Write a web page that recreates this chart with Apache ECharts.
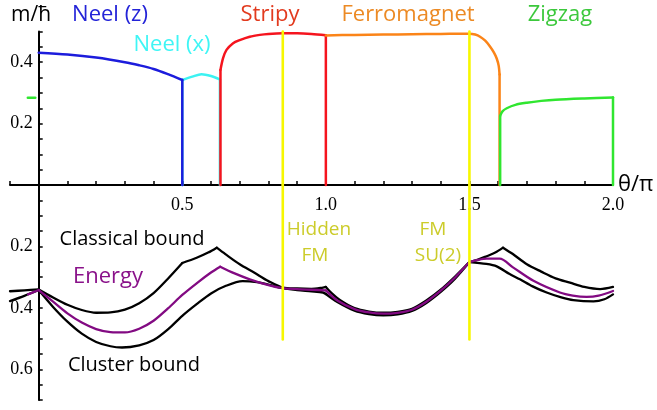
<!DOCTYPE html>
<html><head><meta charset="utf-8">
<script src="https://cdn.jsdelivr.net/npm/echarts@6/dist/echarts.min.js"></script>
<style>html,body{margin:0;padding:0;background:#fff}#c{width:657px;height:410px}</style>
</head><body><div id="c"></div>
<script>
// ---- data (θ/π, value) ----
const xTickLabels = [0.5, 1.0, 1.5, 2.0];
const mTickLabels = [0.2, 0.4];
const eTickLabels = [0.2, 0.4, 0.6];
const phaseMarks = [0.85, 1.5];
const phaseMarkTopM = 0.5;
const phaseMarkBottomE = 0.503;

const neelZ = [[0,0.431],[0.1,0.425],[0.2,0.415],[0.3,0.400],[0.35,0.390],[0.4,0.378],[0.45,0.361],[0.5,0.342],[0.5,0]];
const neelX = [[0.5,0],[0.5,0.342],[0.535,0.353],[0.567,0.361],[0.6,0.355],[0.631,0.344],[0.631,0]];
const stripy = [[0.633,0],[0.633,0.375],[0.642,0.413],[0.654,0.44],[0.677,0.462],[0.7,0.472],[0.735,0.483],[0.77,0.489],[0.8,0.492],[0.85,0.494],[0.9,0.494],[0.95,0.492],[1.0,0.488],[1.0,0]];
const ferro = [[1.0,0.487],[1.1,0.489],[1.2,0.490],[1.3,0.491],[1.4,0.492],[1.5,0.493],[1.52,0.490],[1.537,0.483],[1.555,0.470],[1.571,0.452],[1.585,0.432],[1.595,0.412],[1.602,0.388],[1.605,0.36],[1.605,0]];
const zigzag = [[1.607,0],[1.607,0.225],[1.615,0.240],[1.63,0.250],[1.66,0.261],[1.7,0.268],[1.75,0.274],[1.8,0.278],[1.9,0.282],[2.0,0.285],[2.0,0]];
const zigzagWrap = [[-0.038,0.284],[-0.012,0.284]];

const classicalBound = [[-0.1,0.346],[-0.05,0.343],[0,0.340],[0.05,0.366],[0.1,0.390],[0.15,0.407],[0.2,0.416],[0.25,0.415],[0.3,0.406],[0.35,0.385],[0.4,0.352],[0.45,0.305],[0.5,0.254],[0.55,0.237],[0.59,0.220],[0.62,0.204],[0.65,0.225],[0.7,0.258],[0.75,0.285],[0.8,0.313],[0.85,0.334],[0.9,0.337],[0.95,0.338],[0.99,0.334],[1.0,0.332],[1.02,0.352],[1.05,0.375],[1.1,0.401],[1.15,0.412],[1.2,0.416],[1.25,0.413],[1.3,0.403],[1.35,0.376],[1.4,0.341],[1.45,0.298],[1.5,0.251],[1.53,0.243],[1.56,0.232],[1.59,0.220],[1.617,0.204],[1.65,0.224],[1.7,0.258],[1.75,0.282],[1.8,0.304],[1.85,0.318],[1.9,0.332],[1.955,0.339],[2.0,0.332]];
const energy = [[-0.037,0.356],[0,0.342],[0.05,0.38],[0.1,0.418],[0.15,0.448],[0.2,0.469],[0.25,0.479],[0.3,0.480],[0.35,0.468],[0.4,0.442],[0.45,0.402],[0.5,0.358],[0.55,0.320],[0.6,0.285],[0.632,0.266],[0.68,0.287],[0.735,0.307],[0.8,0.326],[0.85,0.336],[0.9,0.339],[0.95,0.341],[1.0,0.343],[1.04,0.376],[1.1,0.404],[1.15,0.415],[1.2,0.419],[1.25,0.416],[1.3,0.406],[1.35,0.380],[1.4,0.344],[1.45,0.301],[1.5,0.251],[1.53,0.244],[1.56,0.240],[1.605,0.240],[1.653,0.269],[1.723,0.312],[1.815,0.350],[1.86,0.360],[1.908,0.364],[1.95,0.360],[2.0,0.345]];
const clusterBound = [[-0.1,0.378],[-0.05,0.361],[0,0.342],[0.05,0.397],[0.1,0.445],[0.15,0.484],[0.2,0.511],[0.25,0.525],[0.29,0.529],[0.35,0.522],[0.4,0.505],[0.45,0.470],[0.5,0.426],[0.55,0.388],[0.6,0.353],[0.65,0.329],[0.71,0.313],[0.76,0.316],[0.8,0.324],[0.85,0.336],[0.9,0.342],[0.95,0.346],[0.99,0.350],[1.0,0.355],[1.04,0.381],[1.1,0.409],[1.15,0.420],[1.2,0.424],[1.25,0.421],[1.3,0.410],[1.35,0.384],[1.4,0.348],[1.45,0.305],[1.5,0.251],[1.559,0.257],[1.595,0.265],[1.64,0.290],[1.676,0.307],[1.72,0.330],[1.769,0.350],[1.82,0.366],[1.862,0.375],[1.932,0.379],[1.97,0.372],[2.0,0.356]];

// kinks (θ/π) where a curve is not smooth
const neelZKinks = [0.5];
const neelXKinks = [0.5, 0.631];
const stripyKinks = [0.633, 1.0];
const ferroKinks = [1.605];
const zigzagKinks = [1.607, 2.0];
const classicalKinks = [0, 0.5, 0.62, 1.0, 1.5, 1.617];
const energyKinks = [0, 0.632, 1.0, 1.5];
const clusterKinks = [0, 1.0, 1.5];

// ---- chart ----
const chart = echarts.init(document.getElementById('c'), null, {renderer:'canvas'});
const near = (v, list) => list.some(t => Math.abs(v - t) < 1e-6);
const sans = '"Open Sans", sans-serif';
const serif = '"Liberation Serif", serif';
const XMIN = -0.1, XMAX = 2.0;
const GL = 10, GW = 603;
const yOffset = -GW * (0 - XMIN) / (XMAX - XMIN);

function pieces(data, kinks) {
  const out = []; let cur = [];
  data.forEach(p => {
    cur.push(p);
    if (near(p[0], kinks) && cur.length > 1) { out.push(cur); cur = [p]; }
  });
  if (cur.length > 1) out.push(cur);
  return out;
}
function line(data, color, width, xi, yi, z, smooth) {
  return {type:'line', data, xAxisIndex:xi, yAxisIndex:yi, showSymbol:false, symbol:'none',
    smooth: smooth ? 0.3 : false,
    lineStyle:{color, width, join:'round', cap:'round'}, z:z||2, clip:false, animation:false, silent:true};
}
function curve(data, kinks, color, width, xi, yi, z) {
  return pieces(data, kinks).map(pc => {
    const vertical = pc.length === 2 && Math.abs(pc[0][0]-pc[1][0]) < 1e-9;
    return line(pc, color, width, xi, yi, z, !vertical && pc.length > 2);
  });
}
const yellowSeries = [];
phaseMarks.forEach(t => {
  yellowSeries.push(line([[t,0],[t,phaseMarkTopM]], '#f7f700', 2.6, 0, 0, 10));
  yellowSeries.push(line([[t,0],[t,phaseMarkBottomE]], '#f7f700', 2.6, 1, 1, 10));
});

const axisBase = {splitLine:{show:false},
  axisTick:{inside:true, length:4, lineStyle:{color:'#000', width:1.5}}};

function txt(text, x, y, color, size, font) {
  return {type:'text', x, y, z:100, style:{text, fill:color, font:`${size}px ${font||sans}`,
    textAlign:'center', textVerticalAlign:'middle', align:'center', verticalAlign:'middle'}};
}

chart.setOption({
  animation:false,
  backgroundColor:'#fff',
  grid:[{left:GL, width:GW, top:31.5, height:153.5, containLabel:false, outerBoundsMode:'none'},
        {left:GL, width:GW, top:185, height:215, containLabel:false, outerBoundsMode:'none'}],
  xAxis:[
    Object.assign({}, axisBase, {type:'value', gridIndex:0, min:XMIN, max:XMAX, interval:0.1,
      axisLine:{onZero:true, lineStyle:{color:'#000', width:2}},
      axisLabel:{margin:11, fontFamily:serif, fontSize:18, color:'#000',
        formatter:v => near(v, xTickLabels) ? v.toFixed(1) : ''},
      name:'θ/π', nameLocation:'end', nameGap:5,
      nameTextStyle:{fontFamily:sans, fontSize:22, color:'#000', verticalAlign:'middle', padding:[0,0,4,0]}}),
    {type:'value', gridIndex:1, min:XMIN, max:XMAX, show:false}
  ],
  yAxis:[
    Object.assign({}, axisBase, {type:'value', gridIndex:0, min:0, max:0.5, interval:0.05,
      position:'left', offset:yOffset,
      axisLine:{onZero:false, lineStyle:{color:'#000', width:2}},
      axisLabel:{margin:6, fontFamily:serif, fontSize:18, color:'#000',
        formatter:v => near(v, mTickLabels) ? v.toFixed(1) : ''}}),
    Object.assign({}, axisBase, {type:'value', gridIndex:1, min:0, max:0.7, interval:0.05, inverse:true,
      position:'left', offset:yOffset,
      axisLine:{onZero:false, lineStyle:{color:'#000', width:2}},
      axisLabel:{margin:6, fontFamily:serif, fontSize:18, color:'#000',
        formatter:v => near(v, eTickLabels) ? v.toFixed(1) : ''}})
  ],
  series:[
    ...curve(neelX, neelXKinks, '#3cf2f2', 2.5, 0, 0, 3),
    ...curve(neelZ, neelZKinks, '#1c1cdc', 2.5, 0, 0, 4),
    ...curve(stripy, stripyKinks, '#f5141e', 2.5, 0, 0, 4),
    ...curve(ferro, ferroKinks, '#fb8418', 2.5, 0, 0, 4),
    ...curve(zigzag, zigzagKinks, '#30e630', 2.5, 0, 0, 5),
    line(zigzagWrap, '#30e630', 2.5, 0, 0, 5),
    ...curve(classicalBound, classicalKinks, '#000', 2.3, 1, 1, 3),
    ...curve(clusterBound, clusterKinks, '#000', 2.3, 1, 1, 3),
    ...curve(energy, energyKinks, '#820a82', 2.3, 1, 1, 4),
    ...yellowSeries
  ],
  graphic:[
    txt('m/ħ', 31, 15, '#000', 21),
    txt('Neel (z)', 110, 15, '#2424d8', 22),
    txt('Neel (x)', 172, 45, '#3ff5f5', 22),
    txt('Stripy', 270, 15, '#e23a1e', 22),
    txt('Ferromagnet', 408, 15, '#ec8a24', 22),
    txt('Zigzag', 560, 15, '#3cc83c', 22),
    txt('Hidden', 319, 230, '#cccc2a', 19),
    txt('FM', 315, 256, '#cccc2a', 19),
    txt('FM', 433, 230, '#cccc2a', 19),
    txt('SU(2)', 438, 256, '#cccc2a', 19),
    txt('Classical bound', 132, 239, '#000', 20),
    txt('Energy', 108, 277, '#8a128a', 22),
    txt('Cluster bound', 134, 365, '#000', 20)
  ]
});
</script></body></html>
